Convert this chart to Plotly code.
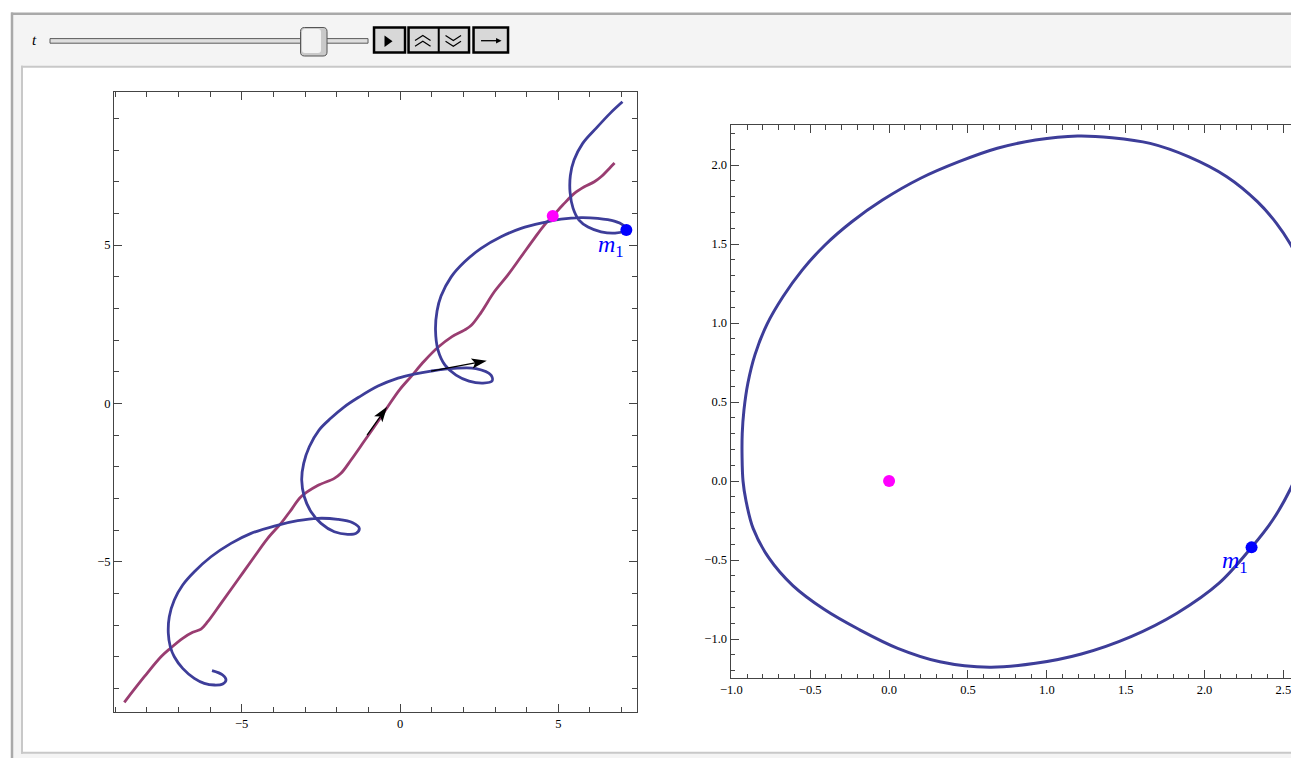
import math
import plotly.graph_objects as go

W, H = 1291, 758

# ---------------- data ----------------
# left panel: lab-frame trajectories
m2_path_x = [-8.708, -8.076, -7.549, -7.255, -6.864, -6.548, -6.286, -6.074, -5.654, -5.126,
             -4.602, -4.179, -3.759, -3.443, -3.127, -2.600, -2.075, -1.864, -1.548, -1.128,
             -0.704, -0.389, -0.022, 0.347, 0.768, 1.191, 1.642, 2.031, 2.243, 2.558,
             2.978, 3.402, 3.822, 4.242, 4.558, 4.823, 5.139, 5.505, 5.821, 6.137,
             6.349, 6.611, 6.775]
m2_path_y = [-9.441, -8.633, -8.001, -7.736, -7.420, -7.231, -7.127, -6.896, -6.315, -5.579,
             -4.844, -4.263, -3.789, -3.369, -2.949, -2.596, -2.368, -2.210, -1.790, -1.190,
             -0.581, -0.107, 0.420, 0.846, 1.336, 1.762, 2.109, 2.314, 2.457, 2.867,
             3.524, 4.051, 4.629, 5.210, 5.630, 5.914, 6.262, 6.631, 6.839, 6.997,
             7.155, 7.420, 7.588]

m1_path_x = [-5.938, -5.600, -5.496, -5.600, -5.865, -6.181, -6.497, -6.864, -7.129, -7.255,
             -7.318, -7.287, -7.129, -6.864, -6.497, -5.970, -5.338, -4.706, -3.970, -3.231,
             -2.600, -1.968, -1.494, -1.286, -1.390, -1.652, -2.075, -2.495, -2.811, -3.023,
             -3.105, -3.042, -2.865, -2.558, -2.179, -1.769, -1.295, -0.695, -0.063, 0.442,
             0.979, 1.706, 2.400, 2.874, 2.906, 2.622, 2.179, 1.769, 1.421, 1.200,
             1.121, 1.169, 1.295, 1.611, 2.031, 2.558, 3.190, 3.822, 4.558, 5.085,
             5.717, 6.244, 6.769, 7.044, 7.148, 6.791, 6.349, 5.938, 5.654, 5.464,
             5.370, 5.380, 5.496, 5.764, 6.213, 6.642, 7.025]
m1_path_y = [-8.443, -8.579, -8.737, -8.863, -8.895, -8.841, -8.683, -8.368, -8.001, -7.686,
             -7.262, -6.738, -6.211, -5.737, -5.317, -4.844, -4.421, -4.105, -3.874, -3.707,
             -3.631, -3.663, -3.770, -3.947, -4.105, -4.136, -4.054, -3.789, -3.423, -2.949,
             -2.422, -1.895, -1.370, -0.843, -0.464, -0.117, 0.199, 0.546, 0.799, 0.925,
             1.020, 1.105, 1.099, 0.894, 0.704, 0.641, 0.704, 0.894, 1.209, 1.683,
             2.315, 2.914, 3.388, 3.988, 4.462, 4.894, 5.261, 5.526, 5.715, 5.819,
             5.867, 5.842, 5.756, 5.630, 5.472, 5.377, 5.418, 5.567, 5.788, 6.167,
             6.672, 7.200, 7.682, 8.203, 8.709, 9.166, 9.523]

m1_now_x, m1_now_y = [7.148], [5.472]
m2_now_x, m2_now_y = [4.823], [5.914]

arrow_tail_x = [-1.04, 0.98]
arrow_tail_y = [-1.00, 1.02]
arrow_tip_x = [-0.41, 2.74]
arrow_tip_y = [-0.11, 1.345]

# right panel: relative orbit
rel_orbit_x = [2.298, 2.432, 2.541, 2.66, 2.72, 2.75, 2.73, 2.67, 2.541, 2.456,
               2.335, 2.141, 1.898, 1.655, 1.413, 1.195, 0.928, 0.686, 0.443, 0.200,
               -0.042, -0.236, -0.406, -0.551, -0.673, -0.775, -0.850, -0.895, -0.920, -0.931,
               -0.932, -0.926, -0.908, -0.862, -0.760, -0.610, -0.412, -0.190, 0.055, 0.322,
               0.637, 0.928, 1.219, 1.534, 1.825, 2.092, 2.298]
rel_orbit_y = [-0.420, -0.247, -0.057, 0.23, 0.48, 0.74, 0.99, 1.24, 1.504, 1.631,
               1.768, 1.926, 2.053, 2.137, 2.173, 2.184, 2.158, 2.106, 2.021, 1.916,
               1.778, 1.641, 1.494, 1.335, 1.166, 0.990, 0.800, 0.620, 0.450, 0.300,
               0.150, 0.000, -0.120, -0.300, -0.490, -0.662, -0.812, -0.940, -1.059, -1.144,
               -1.179, -1.154, -1.095, -0.985, -0.837, -0.647, -0.420]
rel_m1_x, rel_m1_y = [2.298], [-0.420]
rel_m2_x, rel_m2_y = [0.0], [0.0]

left_ticks = [-5, 0, 5]
right_xticks = [-1.0, -0.5, 0.0, 0.5, 1.0, 1.5, 2.0, 2.5]
right_yticks = [-1.0, -0.5, 0.0, 0.5, 1.0, 1.5, 2.0]

# ---------------- styling ----------------
BLUE_LINE = "#3d3d99"
PURPLE_LINE = "#993d71"
FRAME = "#444444"
SERIF = "Liberation Serif"

# the captured page shows the figure horizontally at 10 + 0.9914 * x
X_OFF, X_SCALE = 10.0, 0.9914


def px(x):
    return min(max(((x - X_OFF) / X_SCALE) / W, 0.0), 1.0)


def py(y):
    return min(max(1 - y / H, 0.0), 1.0)


fig = go.Figure()

# left panel traces
fig.add_trace(go.Scatter(x=m2_path_x, y=m2_path_y, mode="lines",
                         line=dict(color=PURPLE_LINE, width=2.8, shape="spline", smoothing=1),
                         xaxis="x", yaxis="y", hoverinfo="skip"))
fig.add_trace(go.Scatter(x=m1_path_x, y=m1_path_y, mode="lines",
                         line=dict(color=BLUE_LINE, width=2.8, shape="spline", smoothing=1),
                         xaxis="x", yaxis="y", hoverinfo="skip"))
fig.add_trace(go.Scatter(x=m2_now_x, y=m2_now_y, mode="markers",
                         marker=dict(color="#ff00ff", size=12), xaxis="x", yaxis="y"))
fig.add_trace(go.Scatter(x=m1_now_x, y=m1_now_y, mode="markers",
                         marker=dict(color="#0000ff", size=12), xaxis="x", yaxis="y"))

# right panel traces
fig.add_trace(go.Scatter(x=rel_orbit_x, y=rel_orbit_y, mode="lines",
                         line=dict(color=BLUE_LINE, width=3, shape="spline", smoothing=1),
                         xaxis="x2", yaxis="y2", hoverinfo="skip"))
fig.add_trace(go.Scatter(x=rel_m2_x, y=rel_m2_y, mode="markers",
                         marker=dict(color="#ff00ff", size=12), xaxis="x2", yaxis="y2"))
fig.add_trace(go.Scatter(x=rel_m1_x, y=rel_m1_y, mode="markers",
                         marker=dict(color="#0000ff", size=12), xaxis="x2", yaxis="y2"))

shapes = []


def pline(x0, y0, x1, y1, color, width):
    return dict(type="line", xref="paper", yref="paper", layer="below",
                x0=px(x0), y0=py(y0), x1=px(x1), y1=py(y1), line=dict(color=color, width=width))


# Manipulate panel (fills plus only the visible edges)
shapes.append(dict(type="rect", xref="paper", yref="paper", layer="below",
                   x0=px(9.7), x1=1.0, y0=py(13.7), y1=0.0,
                   line=dict(width=0), fillcolor="#f4f4f4"))
shapes.append(pline(11.0, 12.5, 11.0, H, "#a9a9a9", 2.5))
shapes.append(pline(10.0, 13.7, W + 20, 13.7, "#a9a9a9", 2.5))
shapes.append(dict(type="rect", xref="paper", yref="paper", layer="below",
                   x0=px(21), x1=1.0, y0=py(66.7), y1=py(752.7),
                   line=dict(width=0), fillcolor="#ffffff"))
shapes.append(pline(21, 65.7, 21, 753.7, "#c8c8c8", 2))
shapes.append(pline(20, 66.7, W + 20, 66.7, "#c8c8c8", 2))
shapes.append(pline(20, 752.7, W + 20, 752.7, "#c8c8c8", 2))

# slider track and thumb
shapes.append(dict(type="rect", xref="paper", yref="paper",
                   x0=px(49), x1=px(367), y0=py(38.6), y1=py(43.2),
                   line=dict(color="#5c5c5c", width=1), fillcolor="#dedede"))


def rrect(x0, y0, x1, y1, r):
    return (f"M {px(x0 + r)} {py(y0)} L {px(x1 - r)} {py(y0)} Q {px(x1)} {py(y0)} {px(x1)} {py(y0 + r)} "
            f"L {px(x1)} {py(y1 - r)} Q {px(x1)} {py(y1)} {px(x1 - r)} {py(y1)} "
            f"L {px(x0 + r)} {py(y1)} Q {px(x0)} {py(y1)} {px(x0)} {py(y1 - r)} "
            f"L {px(x0)} {py(y0 + r)} Q {px(x0)} {py(y0)} {px(x0 + r)} {py(y0)} Z")


shapes.append(dict(type="path", xref="paper", yref="paper", path=rrect(299.5, 27.5, 326, 56, 4),
                   line=dict(color="#555555", width=1), fillcolor="#c9c9c9"))
shapes.append(dict(type="path", xref="paper", yref="paper", path=rrect(301, 29, 320, 53, 3),
                   line=dict(width=0), fillcolor="#f3f3f3"))

# buttons
for bx0, bx1 in [(373, 404), (407.5, 468), (472.5, 507)]:
    shapes.append(dict(type="rect", xref="paper", yref="paper",
                       x0=px(bx0), x1=px(bx1), y0=py(27.5), y1=py(52.5),
                       line=dict(color="#000000", width=2.5), fillcolor="#d8d8d8"))
shapes.append(dict(type="line", xref="paper", yref="paper",
                   x0=px(437.7), x1=px(437.7), y0=py(27.5), y1=py(52.5),
                   line=dict(color="#000000", width=2)))
shapes.append(dict(type="path", xref="paper", yref="paper",
                   path=f"M {px(383.5)} {py(35.5)} L {px(391.5)} {py(41.2)} L {px(383.5)} {py(47)} Z",
                   line=dict(width=0), fillcolor="#000000"))
for yy in (35.5, 41.2):
    shapes.append(dict(type="path", xref="paper", yref="paper",
                       path=f"M {px(414)} {py(yy + 5)} L {px(421.8)} {py(yy)} L {px(429.5)} {py(yy + 5)}",
                       line=dict(color="#000000", width=1.2)))
for yy in (35.5, 41.2):
    shapes.append(dict(type="path", xref="paper", yref="paper",
                       path=f"M {px(444.5)} {py(yy)} L {px(452.3)} {py(yy + 5)} L {px(460)} {py(yy)}",
                       line=dict(color="#000000", width=1.2)))
shapes.append(dict(type="line", xref="paper", yref="paper",
                   x0=px(480), x1=px(497), y0=py(40.7), y1=py(40.7),
                   line=dict(color="#000000", width=1.3)))
shapes.append(dict(type="path", xref="paper", yref="paper",
                   path=f"M {px(495)} {py(38)} L {px(500.5)} {py(40.7)} L {px(495)} {py(43.4)} Z",
                   line=dict(width=0), fillcolor="#000000"))

# velocity arrows in the left panel (data coordinates, equal aspect)
head_len = 0.48
for tx, ty, hx, hy in zip(arrow_tail_x, arrow_tail_y, arrow_tip_x, arrow_tip_y):
    dx, dy = hx - tx, hy - ty
    n = math.hypot(dx, dy)
    ux, uy = dx / n, dy / n
    vx, vy = -uy, ux
    bx, by = hx - head_len * ux, hy - head_len * uy
    nx, ny = hx - 0.78 * head_len * ux, hy - 0.78 * head_len * uy
    hw = 0.16
    shapes.append(dict(type="line", xref="x", yref="y", x0=tx, y0=ty, x1=nx, y1=ny,
                       line=dict(color="#000000", width=1.3)))
    shapes.append(dict(type="path", xref="x", yref="y",
                       path=(f"M {hx} {hy} L {bx + hw * vx} {by + hw * vy} L {nx} {ny} "
                             f"L {bx - hw * vx} {by - hw * vy} Z"),
                       line=dict(width=0), fillcolor="#000000"))

annotations = [
    dict(xref="paper", yref="paper", x=px(33), y=py(40.5), text="<i>t</i>", showarrow=False,
         font=dict(family=SERIF, size=15, color="#000000"), xanchor="center", yanchor="middle"),
    dict(xref="x", yref="y", x=m1_now_x[0], y=m1_now_y[0], text="<i>m</i><sub>1</sub>",
         showarrow=False, xanchor="right", yanchor="top", xshift=0, yshift=1,
         font=dict(family=SERIF, size=24, color="#0000ff")),
    dict(xref="x2", yref="y2", x=rel_m1_x[0], y=rel_m1_y[0], text="<i>m</i><sub>1</sub>",
         showarrow=False, xanchor="right", yanchor="top", xshift=-2, yshift=2,
         font=dict(family=SERIF, size=24, color="#0000ff")),
]

tickfont = dict(family=SERIF, size=12.5, color="#000000")
common = dict(showgrid=False, zeroline=False, showline=True, linecolor=FRAME, linewidth=1,
              ticks="inside", tickcolor=FRAME, tickwidth=1, ticklen=8, tickfont=tickfont,
              fixedrange=True)

fig.update_layout(
    width=W, height=H, autosize=False, margin=dict(l=0, r=0, t=0, b=0, pad=0),
    paper_bgcolor="#ffffff", plot_bgcolor="rgba(0,0,0,0)",
    showlegend=False, shapes=shapes, annotations=annotations,
    xaxis=dict(domain=[px(113), px(636)], range=[-9.033, 7.486], tickvals=left_ticks,
               mirror="allticks", anchor="y",
               minor=dict(dtick=1, tick0=0, ticks="inside", ticklen=5, tickcolor=FRAME, tickwidth=1),
               **common),
    yaxis=dict(domain=[py(712), py(92)], range=[-9.747, 9.833], tickvals=left_ticks,
               mirror="allticks", anchor="x",
               minor=dict(dtick=1, tick0=0, ticks="inside", ticklen=5, tickcolor=FRAME, tickwidth=1),
               **common),
    xaxis2=dict(domain=[px(729.5), 1.0], range=[-1.005, 2.548], tickvals=right_xticks,
                tickformat=".1f", mirror="allticks", anchor="y2", ticklabeloverflow="allow",
                minor=dict(dtick=0.1, tick0=0, ticks="inside", ticklen=4.5, tickcolor=FRAME, tickwidth=1),
                **common),
    yaxis2=dict(domain=[py(678.3), py(125)], range=[-1.2487, 2.2532],
                tickvals=right_yticks, tickformat=".1f",
                mirror=False, anchor="x2",
                minor=dict(dtick=0.1, tick0=0, ticks="inside", ticklen=4.5, tickcolor=FRAME, tickwidth=1),
                **common),
)

fig.write_html("out.html", config={"displayModeBar": False, "responsive": False},
               post_script=("document.documentElement.style.overflow='hidden';"
                            "document.body.style.margin='0';document.body.style.overflow='hidden';"))
